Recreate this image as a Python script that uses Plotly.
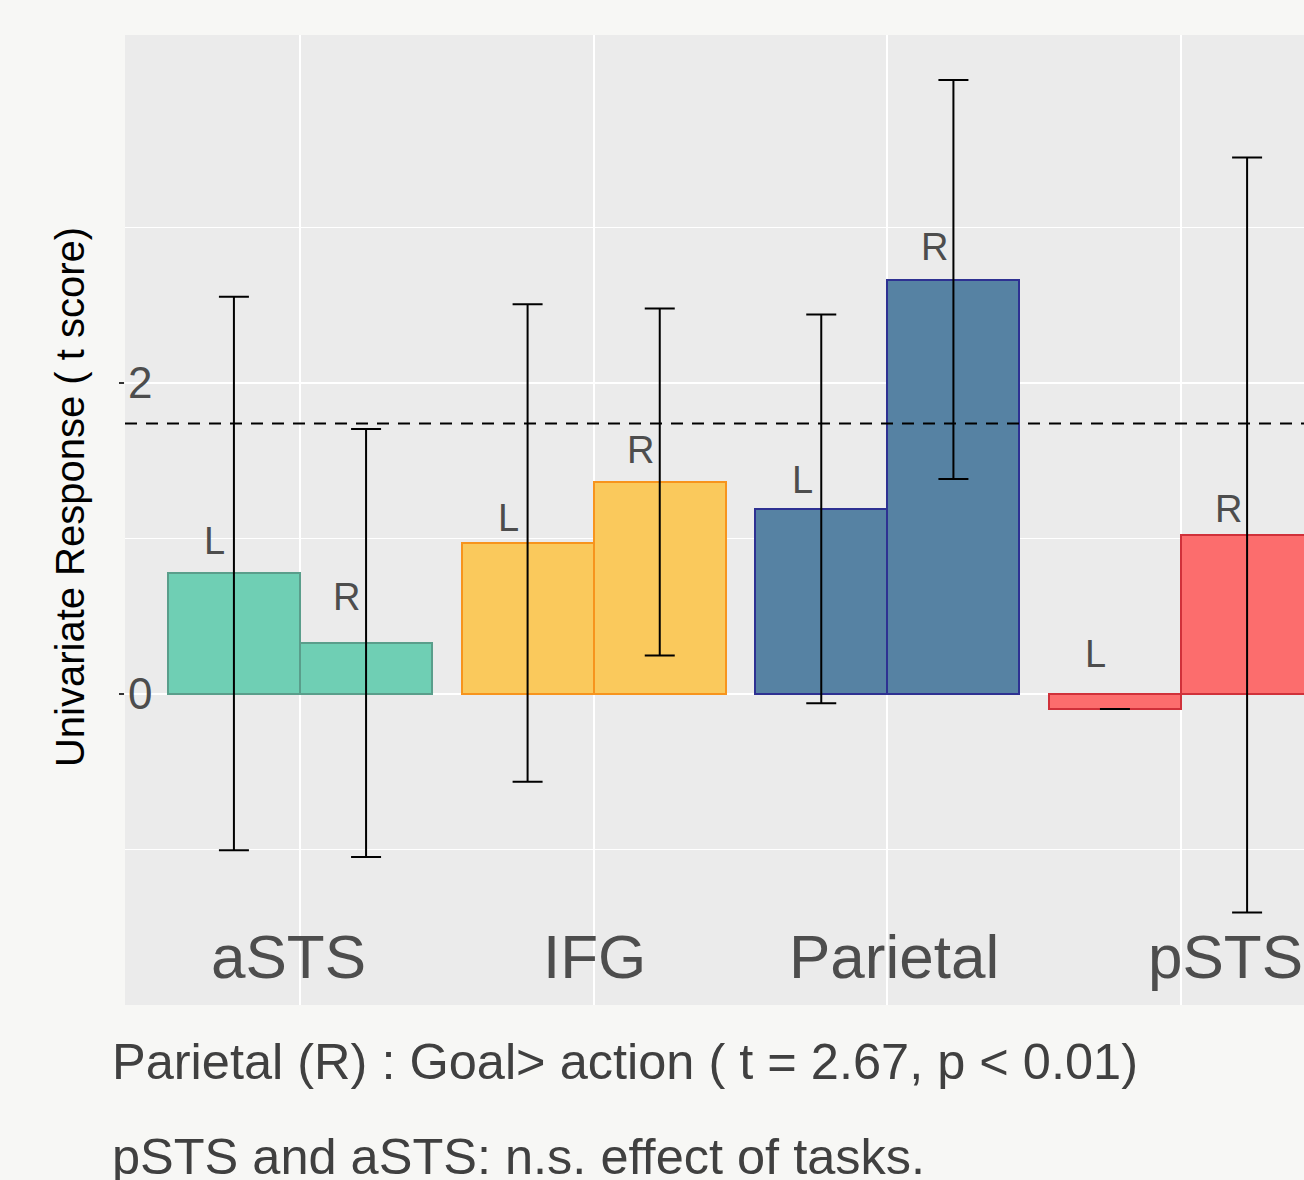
import plotly.graph_objects as go

# ---------------- data ----------------
regions = ["aSTS", "IFG", "Parietal", "pSTS"]
hemis = ["L", "R"]
values_L = [0.775, 0.971, 1.190, -0.096]
values_R = [0.328, 1.363, 2.665, 1.023]
err_L = [1.780, 1.535, 1.250, 0.0]
err_R = [1.376, 1.116, 1.283, 2.428]
label_height_L = [0.981, 1.135, 1.376, 0.257]
label_height_R = [0.627, 1.569, 2.875, 1.190]
threshold = 1.74
y_tick_vals = [0, 2]
y_tick_text = ["0", "2"]
annotation_lines = [
    "Parietal (R) : Goal> action ( t = 2.67, p < 0.01)",
    "pSTS and aSTS: n.s. effect of tasks.",
]
y_title = "Univariate Response ( t score)"

# ---------------- styles ----------------
fill_colors = ["#6FCFB4", "#FAC95C", "#5682A3", "#FC6D6D"]
line_colors = ["#5A9E8B", "#F7941D", "#2E3192", "#D0313A"]
bar_w = 0.45
label_dx = -0.065
region_label_shift = [-0.04, 0.003, 0.023, 0.15]
FONT = "Liberation Sans, Arial, Helvetica, sans-serif"
GRAY = "#4D4D4D"
PAGE_BG = "#F7F7F5"

xs, ys, errs, fills, lines = [], [], [], [], []
for i, r in enumerate(regions):
    for h, vals, ers in (("L", values_L, err_L), ("R", values_R, err_R)):
        off = -bar_w / 2 if h == "L" else bar_w / 2
        xs.append(i + off)
        ys.append(vals[i])
        errs.append(ers[i])
        fills.append(fill_colors[i])
        lines.append(line_colors[i])

fig = go.Figure()
fig.add_trace(go.Bar(
    x=xs, y=ys, width=bar_w,
    marker=dict(color=fills, line=dict(color=lines, width=2)),
    error_y=dict(type="data", array=errs, visible=True, color="black",
                 thickness=2, width=15),
    showlegend=False, hoverinfo="skip",
))

annotations = []
# L / R labels
for i in range(len(regions)):
    for h, lh in (("L", label_height_L), ("R", label_height_R)):
        off = -bar_w / 2 if h == "L" else bar_w / 2
        annotations.append(dict(
            x=i + off + label_dx, y=lh[i], xref="x", yref="y", text=h,
            showarrow=False, xanchor="center", yanchor="middle",
            font=dict(family=FONT, size=38, color=GRAY)))

# region labels
for i, r in enumerate(regions):
    annotations.append(dict(
        x=i + region_label_shift[i], y=0.0495, xref="x", yref="paper", text=r,
        showarrow=False, xanchor="center", yanchor="middle",
        font=dict(family=FONT, size=62, color=GRAY)))

# y title
annotations.append(dict(
    x=-0.0466, y=0.5237, xref="paper", yref="paper", text=y_title,
    textangle=-90, showarrow=False, xanchor="center", yanchor="middle",
    font=dict(family=FONT, size=40, color="black")))

# bottom notes
for k, (txt, yy) in enumerate(zip(annotation_lines, [-0.0582, -0.1557])):
    annotations.append(dict(
        x=-0.0127, y=yy, xref="paper", yref="paper", text=txt,
        showarrow=False, xanchor="left", yanchor="middle",
        font=dict(family=FONT, size=50.5, color="#404040")))

fig.add_shape(type="line", xref="paper", x0=0, x1=1, yref="y",
              y0=threshold, y1=threshold,
              line=dict(color="black", width=2, dash="12px,9px"))

fig.update_layout(
    width=1304, height=1180,
    margin=dict(l=125, r=0, t=35, b=175),
    paper_bgcolor=PAGE_BG, plot_bgcolor="#EBEBEB",
    annotations=annotations,
    bargap=0,
    xaxis=dict(range=[-0.5959, 3.4188], tickvals=[0, 1, 2, 3],
               showticklabels=False, ticks="", showgrid=True,
               gridcolor="white", gridwidth=2, zeroline=False,
               showline=False),
    yaxis=dict(range=[-2.0, 4.238], tickvals=y_tick_vals,
               ticktext=y_tick_text, ticks="outside", ticklen=5,
               tickwidth=2, tickcolor="#333333",
               ticklabelposition="inside",
               tickfont=dict(family=FONT, size=44, color=GRAY),
               showgrid=True, gridcolor="white", gridwidth=2,
               zeroline=False, showline=False,
               minor=dict(tickvals=[-1, 1, 3], showgrid=True,
                          gridcolor="white", gridwidth=1, ticks="")),
    font=dict(family=FONT),
)

fig.write_html(
    "out.html",
    config={"displayModeBar": False},
    post_script=(
        "document.body.style.margin='0';"
        "document.body.style.padding='0';"
        "document.body.style.background='" + PAGE_BG + "';"
        "document.body.style.overflow='hidden';"
    ),
)
